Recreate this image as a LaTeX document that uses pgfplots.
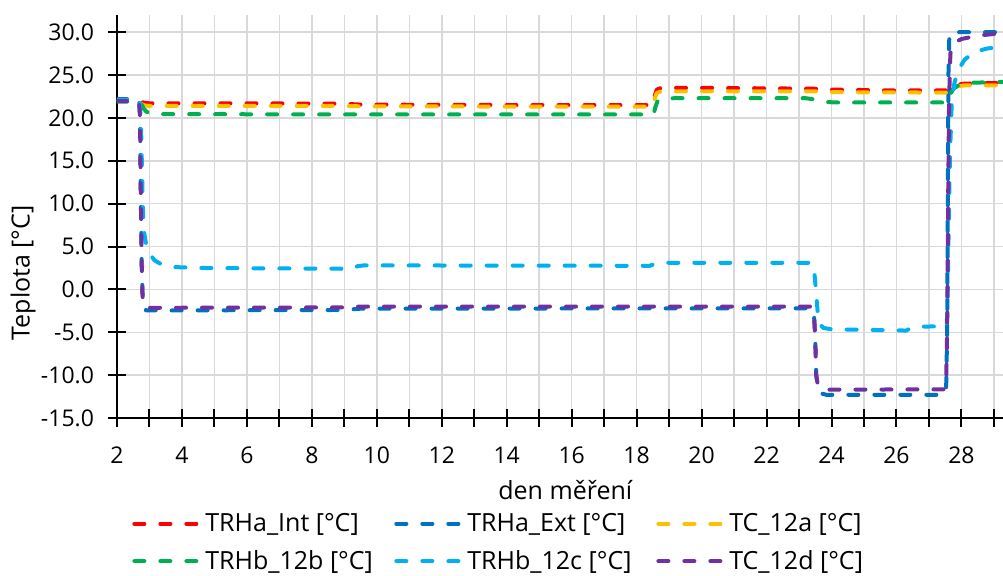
\documentclass[border=0pt]{standalone}
\usepackage{pgfplots}
\pgfplotsset{compat=1.18}
\usepackage{fontspec}
\setmainfont{Open Sans}
\definecolor{cRed}{HTML}{FF0000}
\definecolor{cBlue}{HTML}{0070C0}
\definecolor{cYellow}{HTML}{FFC000}
\definecolor{cGreen}{HTML}{00B050}
\definecolor{cLBlue}{HTML}{00B0F0}
\definecolor{cPurple}{HTML}{7030A0}
\definecolor{cGrid}{HTML}{D9D9D9}
\newcommand{\legbox}[1]{\makebox[94.5pt][l]{#1}}
\begin{document}
\begin{tikzpicture}
\begin{axis}[
  scale only axis, width=443pt, height=201.5pt,
  xmin=2, xmax=29.28, ymin=-15, ymax=32,
  axis lines=left,
  axis line style={black, line width=1pt, -},
  xtick={2,3,...,29},
  xticklabels={2,,4,,6,,8,,10,,12,,14,,16,,18,,20,,22,,24,,26,,28,},
  ytick={-15,-10,...,30},
  xticklabel style={yshift=-6.5pt},
  yticklabel style={xshift=-3.5pt, /pgf/number format/.cd, fixed, fixed zerofill, precision=1, assume math mode=true},
  grid=major,
  grid style={draw=cGrid, line width=0.75pt},
  tick style={black, line width=1pt},
  tick align=center, major tick length=9pt,
  ticklabel style={font=\fontsize{11.5}{13}\selectfont},
  xlabel={den měření}, ylabel={Teplota [°C]},
  every axis x label/.style={at={(axis description cs:0.506,-0.179)}, anchor=center, font=\fontsize{12.5}{15}\selectfont},
  every axis y label/.style={at={(axis description cs:-0.106,0.36)}, anchor=center, rotate=90, font=\fontsize{12.5}{15}\selectfont},
  every axis plot/.append style={line width=2pt, line cap=round, line join=round, dash pattern=on 5pt off 8pt},
  legend columns=3,
  legend cell align=left,
  legend image code/.code={\draw[#1] (0pt,0pt) -- (31pt,0pt);},
  legend style={draw=none, fill=none, inner sep=0pt, at={(axis description cs:0.0169,-0.2274)}, anchor=north west,
    font=\fontsize{12.5}{15}\selectfont, nodes={inner xsep=0pt, inner ysep=1.5pt}, row sep=5pt, column sep=0pt,
    /tikz/every odd column/.append style={column sep=3.5pt}},
]
\addplot[cRed] coordinates {(2.00,22.0)(2.70,22.0)(2.76,21.85)(2.85,21.75)(3.0,21.7)(6,21.7)(9,21.65)(9.5,21.55)(14,21.5)(18.50,21.5)(18.56,22.6)(18.62,23.3)(18.75,23.5)(20,23.5)(22,23.45)(23.5,23.4)(24,23.3)(26,23.2)(27.60,23.2)(27.70,23.5)(27.85,23.85)(28.1,24.0)(29.3,24.1)};
\addlegendentry{\legbox{TRHa\_Int [°C]}}
\addplot[cBlue] coordinates {(2.00,22.2)(2.68,22.2)(2.71,20)(2.73,12)(2.76,3)(2.79,-1.2)(2.83,-2.2)(2.9,-2.45)(3.5,-2.45)(9,-2.4)(9.5,-2.25)(23.38,-2.2)(23.46,-2.8)(23.50,-6)(23.53,-10)(23.58,-11.6)(23.7,-12.15)(23.85,-12.3)(27.48,-12.3)(27.53,-11.5)(27.56,-5)(27.58,10)(27.60,25)(27.63,29.9)(27.7,30.0)(29.3,30.0)};
\addlegendentry{\legbox{TRHa\_Ext [°C]}}
\addplot[cYellow] coordinates {(2.00,22.0)(2.70,22.0)(2.76,21.6)(2.85,21.45)(3.0,21.4)(9,21.4)(9.5,21.35)(18.5,21.3)(18.56,22.3)(18.62,22.9)(18.75,23.1)(23.5,23.1)(24,23.0)(27.6,22.95)(27.7,23.3)(27.85,23.65)(28.1,23.8)(29.3,23.8)};
\addlegendentry{\legbox{TC\_12a [°C]}}
\addplot[cGreen] coordinates {(2.00,21.9)(2.70,21.9)(2.75,21.6)(2.82,21.1)(2.9,20.75)(3.0,20.55)(3.2,20.45)(9,20.4)(18.52,20.4)(18.58,21.3)(18.65,22.0)(18.8,22.25)(19.2,22.3)(23.2,22.3)(23.5,22.15)(23.8,21.85)(24.2,21.8)(27.58,21.8)(27.65,22.7)(27.75,23.4)(27.95,23.9)(28.3,24.1)(29.3,24.2)};
\addlegendentry{\legbox{TRHb\_12b [°C]}}
\addplot[cLBlue] coordinates {(2.00,22.1)(2.70,22.1)(2.74,19)(2.77,14)(2.80,9)(2.84,6.5)(2.9,5.2)(3.0,4.2)(3.15,3.4)(3.4,2.85)(3.8,2.6)(4.5,2.5)(9.25,2.4)(9.4,2.7)(9.6,2.8)(18.4,2.75)(18.55,2.95)(18.75,3.1)(23.38,3.1)(23.46,2.4)(23.52,0)(23.57,-2.5)(23.63,-4.0)(23.75,-4.5)(24,-4.65)(26.3,-4.8)(26.45,-4.5)(26.6,-4.35)(27.55,-4.3)(27.58,0)(27.61,8)(27.65,16)(27.7,21.5)(27.78,24)(27.9,25.6)(28.1,26.8)(28.4,27.7)(28.8,28.1)(29.3,28.3)};
\addlegendentry{\legbox{TRHb\_12c [°C]}}
\addplot[cPurple] coordinates {(2.00,21.95)(2.68,21.95)(2.71,20)(2.73,12)(2.76,3)(2.79,-1)(2.83,-2.0)(2.9,-2.15)(9,-2.1)(9.5,-2.0)(23.38,-2.0)(23.46,-2.6)(23.50,-6)(23.53,-10)(23.58,-11.2)(23.7,-11.6)(23.85,-11.7)(27.48,-11.65)(27.53,-10.8)(27.56,-5)(27.59,10)(27.62,22)(27.66,27.5)(27.75,28.7)(28.0,29.2)(28.5,29.6)(29.3,29.9)};
\addlegendentry{\legbox{TC\_12d [°C]}}
\end{axis}
\pgfresetboundingbox
\path[use as bounding box] (-58.5pt,-78.5pt) rectangle (443pt,209pt);
\end{tikzpicture}
\end{document}
